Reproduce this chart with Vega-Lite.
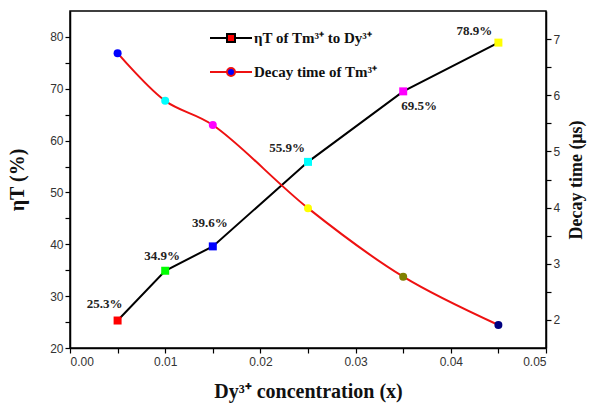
{
  "$schema": "https://vega.github.io/schema/vega-lite/v6.json",
  "width": 476,
  "height": 337,
  "autosize": {"type": "none"},
  "padding": {"left": 70, "top": 11, "right": 51, "bottom": 64},
  "background": "white",
  "config": {
    "view": {"stroke": "black", "strokeWidth": 1.5},
    "axis": {
      "domainColor": "black", "domainWidth": 1.5, "tickColor": "black", "tickWidth": 1.2,
      "tickSize": 5, "grid": false, "labelFont": "Liberation Sans", "labelFontSize": 12,
      "labelColor": "#333", "titleFont": "Liberation Serif", "titleFontWeight": "bold",
      "titleColor": "#111"
    }
  },
  "datasets": {
    "pts": [
      {"x": 0.005, "series": "eta", "value": 25.3, "label": "25.3%"},
      {"x": 0.01, "series": "eta", "value": 34.9, "label": "34.9%"},
      {"x": 0.015, "series": "eta", "value": 39.6, "label": "39.6%"},
      {"x": 0.025, "series": "eta", "value": 55.9, "label": "55.9%"},
      {"x": 0.035, "series": "eta", "value": 69.5, "label": "69.5%"},
      {"x": 0.045, "series": "eta", "value": 78.9, "label": "78.9%"},
      {"x": 0.005, "series": "decay", "value": 6.75},
      {"x": 0.01, "series": "decay", "value": 5.9},
      {"x": 0.015, "series": "decay", "value": 5.47},
      {"x": 0.025, "series": "decay", "value": 3.99},
      {"x": 0.035, "series": "decay", "value": 2.77},
      {"x": 0.045, "series": "decay", "value": 1.91}
    ]
  },
  "data": {"name": "pts"},
  "encoding": {
    "x": {
      "field": "x", "type": "quantitative",
      "scale": {"domain": [0, 0.05], "nice": false, "zero": false},
      "axis": {
        "title": "Dy³⁺ concentration (x)", "titleFontSize": 20, "titlePadding": 14,
        "values": [0, 0.005, 0.01, 0.015, 0.02, 0.025, 0.03, 0.035, 0.04, 0.045, 0.05],
        "labelExpr": "round(datum.value*200) % 2 == 0 ? format(datum.value, '.2f') : ''",
        "labelPadding": 3
      }
    }
  },
  "layer": [
    {
      "transform": [{"filter": "datum.series == 'eta'"}],
      "encoding": {
        "y": {
          "field": "value", "type": "quantitative",
          "scale": {"domain": [20, 85], "nice": false, "zero": false},
          "axis": {
            "orient": "left", "title": "ηT (%)", "titleFontSize": 20, "titlePadding": 22,
            "values": [20, 25, 30, 35, 40, 45, 50, 55, 60, 65, 70, 75, 80],
            "labelExpr": "datum.value % 10 == 0 ? datum.value : ''"
          }
        }
      },
      "layer": [
        {
          "mark": {"type": "line", "strokeWidth": 2},
          "encoding": {
            "stroke": {
              "field": "series", "type": "nominal",
              "scale": {"domain": ["eta", "decay"], "range": ["black", "#ee1111"]},
              "legend": {
                "title": null, "orient": "none", "legendX": 150, "legendY": 16,
                "padding": 0, "symbolSize": 400, "symbolStrokeWidth": 2,
                "rowPadding": 15, "labelOffset": 12,
                "labelFont": "Liberation Serif", "labelFontWeight": "bold", "labelFontSize": 15,
                "labelColor": "#111",
                "labelExpr": "datum.value == 'eta' ? 'ηT of Tm³⁺ to Dy³⁺' : 'Decay time of Tm³⁺'",
                "encode": {
                  "symbols": {
                    "update": {
                      "shape": {"signal": "datum.value == 'eta' ? 'M-2.1,0H-0.4M0.4,0H2.1M-0.4,-0.4H0.4V0.4H-0.4Z' : 'M-2.1,0H-0.4M0.4,0H2.1M0.4,0A0.4,0.4,0,1,1,-0.4,0A0.4,0.4,0,1,1,0.4,0Z'"},
                      "fill": {"signal": "datum.value == 'eta' ? '#ff0000' : '#0000ff'"}
                    }
                  }
                }
              }
            }
          }
        },
        {
          "mark": {"type": "point", "shape": "square", "filled": true, "size": 64, "opacity": 1},
          "encoding": {
            "color": {
              "field": "x", "type": "nominal",
              "scale": {"domain": [0.005, 0.01, 0.015, 0.025, 0.035, 0.045],
                        "range": ["#ff0000", "#00ff00", "#0000ff", "#00ffff", "#ff00ff", "#ffff00"]},
              "legend": null
            }
          }
        },
        {
          "transform": [{"filter": "datum.x == 0.005"}],
          "mark": {"type": "text", "dx": -13, "dy": -17, "font": "Liberation Serif", "fontWeight": "bold", "fontSize": 13, "color": "#222"},
          "encoding": {"text": {"field": "label"}}
        },
        {
          "transform": [{"filter": "datum.x == 0.01"}],
          "mark": {"type": "text", "dx": -3, "dy": -15, "font": "Liberation Serif", "fontWeight": "bold", "fontSize": 13, "color": "#222"},
          "encoding": {"text": {"field": "label"}}
        },
        {
          "transform": [{"filter": "datum.x == 0.015"}],
          "mark": {"type": "text", "dx": -3, "dy": -23, "font": "Liberation Serif", "fontWeight": "bold", "fontSize": 13, "color": "#222"},
          "encoding": {"text": {"field": "label"}}
        },
        {
          "transform": [{"filter": "datum.x == 0.025"}],
          "mark": {"type": "text", "dx": -21, "dy": -14, "font": "Liberation Serif", "fontWeight": "bold", "fontSize": 13, "color": "#222"},
          "encoding": {"text": {"field": "label"}}
        },
        {
          "transform": [{"filter": "datum.x == 0.035"}],
          "mark": {"type": "text", "dx": 16, "dy": 15, "font": "Liberation Serif", "fontWeight": "bold", "fontSize": 13, "color": "#222"},
          "encoding": {"text": {"field": "label"}}
        },
        {
          "transform": [{"filter": "datum.x == 0.045"}],
          "mark": {"type": "text", "dx": -24, "dy": -12, "font": "Liberation Serif", "fontWeight": "bold", "fontSize": 13, "color": "#222"},
          "encoding": {"text": {"field": "label"}}
        }
      ]
    },
    {
      "transform": [{"filter": "datum.series == 'decay'"}],
      "encoding": {
        "y": {
          "field": "value", "type": "quantitative",
          "scale": {"domain": [1.5, 7.5], "nice": false, "zero": false},
          "axis": {
            "orient": "right", "title": "Decay time (μs)", "titleFontSize": 18, "titlePadding": 26,
            "titleAngle": 270,
            "values": [2, 2.5, 3, 3.5, 4, 4.5, 5, 5.5, 6, 6.5, 7],
            "labelExpr": "datum.value % 1 == 0 ? datum.value : ''"
          }
        }
      },
      "layer": [
        {
          "mark": {"type": "line", "strokeWidth": 2, "interpolate": "catmull-rom"},
          "encoding": {
            "stroke": {
              "field": "series", "type": "nominal",
              "scale": {"domain": ["eta", "decay"], "range": ["black", "#ee1111"]}
            }
          }
        },
        {
          "mark": {"type": "point", "shape": "circle", "filled": true, "size": 64, "opacity": 1},
          "encoding": {
            "color": {
              "field": "x", "type": "nominal",
              "scale": {"domain": [0.005, 0.01, 0.015, 0.025, 0.035, 0.045],
                        "range": ["#0000ff", "#00ffff", "#ff00ff", "#ffff00", "#808000", "#000080"]},
              "legend": null
            }
          }
        }
      ]
    }
  ],
  "resolve": {"scale": {"y": "independent", "color": "independent"}}
}
